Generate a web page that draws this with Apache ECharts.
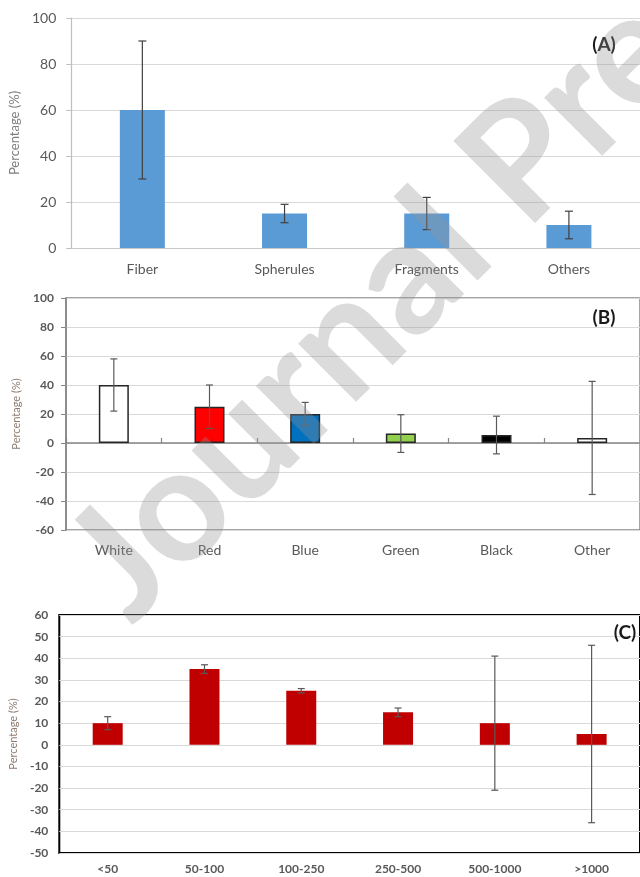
<!DOCTYPE html>
<html>
<head>
<meta charset="utf-8">
<script src="https://cdn.jsdelivr.net/npm/echarts@6/dist/echarts.min.js"></script>
<style>
html, body { margin: 0; padding: 0; background: #fff; }
#main { width: 640px; height: 877px; }
</style>
</head>
<body>
<div id="main"></div>
<script>
// (A) particle shape
var shapeCats = ['Fiber', 'Spherules', 'Fragments', 'Others'];
var shapeVals = [60, 15, 15, 10];
var shapeErr = [30, 4, 7, 6];

// (B) particle colour
var colourCats = ['White', 'Red', 'Blue', 'Green', 'Black', 'Other'];
var colourVals = [40, 25, 20, 6.5, 5.5, 3.5];
var colourErr = [18, 15, 8, 13, 13, 39];
var colourFills = ['#ffffff', '#ff0000', '#0070c0', '#92d050', '#000000', '#ffffff'];

// (C) size classes
var sizeCats = ['<50', '50-100', '100-250', '250-500', '500-1000', '>1000'];
var sizeVals = [10, 35, 25, 15, 10, 5];
var sizeErr = [3, 2, 1, 2, 31, 41];

var FONT = 'Lato';
var labelGrey = '#595959';
var nameGrey = '#8d7b6f';

function errData(vals, errs) {
    return vals.map(function (v, i) { return [i, v - errs[i], v + errs[i]]; });
}

function errRender(cap, color) {
    return function (params, api) {
        var lo = api.coord([api.value(0), api.value(1)]);
        var hi = api.coord([api.value(0), api.value(2)]);
        var st = { stroke: color, lineWidth: 1.2 };
        return {
            type: 'group',
            children: [
                { type: 'line', shape: { x1: lo[0], y1: lo[1], x2: hi[0], y2: hi[1] }, style: st },
                { type: 'line', shape: { x1: hi[0] - cap, y1: hi[1], x2: hi[0] + cap, y2: hi[1] }, style: st },
                { type: 'line', shape: { x1: lo[0] - cap, y1: lo[1], x2: lo[0] + cap, y2: lo[1] }, style: st }
            ]
        };
    };
}

var myChart = echarts.init(document.getElementById('main'));

var option = {
    backgroundColor: '#ffffff',
    animation: false,
    textStyle: { fontFamily: FONT },
    grid: [
        { left: 70, top: 18, width: 572, height: 230 },
        { left: 66, top: 298, width: 576, height: 232, show: true, borderColor: '#868686', borderWidth: 1.5, backgroundColor: 'transparent' },
        { left: 58, top: 615, width: 586, height: 238, show: true, borderColor: '#000000', borderWidth: 2, backgroundColor: 'transparent' }
    ],
    xAxis: [
        {
            type: 'category', gridIndex: 0, data: shapeCats,
            axisLine: { lineStyle: { color: '#c8c8c8', width: 1.2 } },
            axisTick: { show: false },
            axisLabel: { color: labelGrey, fontSize: 14, margin: 14, fontFamily: FONT }
        },
        {
            type: 'category', gridIndex: 1, data: colourCats,
            axisLine: { show: false, onZero: false },
            axisTick: { show: false },
            axisLabel: { color: labelGrey, fontSize: 14, margin: 13, fontFamily: FONT }
        },
        {
            type: 'category', gridIndex: 1, data: colourCats,
            axisLine: { onZero: true, lineStyle: { color: '#868686', width: 1.5 } },
            axisTick: { show: true, length: 5, lineStyle: { color: '#868686', width: 1.2 } },
            axisLabel: { show: false }
        },
        {
            type: 'category', gridIndex: 2, data: sizeCats,
            axisLine: { show: false, onZero: false },
            axisTick: { show: false },
            axisLabel: { color: labelGrey, fontSize: 12, fontWeight: 'bold', margin: 10, fontFamily: FONT }
        }
    ],
    yAxis: [
        {
            type: 'value', gridIndex: 0, min: 0, max: 100, interval: 20,
            name: 'Percentage (%)', nameLocation: 'middle', nameGap: 42,
            nameTextStyle: { color: '#7f7f7f', fontSize: 13, fontFamily: FONT },
            axisLine: { show: true, lineStyle: { color: '#bfbfbf', width: 1.2 } },
            axisTick: { show: true, length: 5, lineStyle: { color: '#bfbfbf' } },
            axisLabel: { color: labelGrey, fontSize: 14, margin: 15, fontFamily: FONT },
            splitLine: { lineStyle: { color: '#d9d9d9', width: 1.2 } }
        },
        {
            type: 'value', gridIndex: 1, min: -60, max: 100, interval: 20,
            name: 'Percentage (%)', nameLocation: 'middle', nameGap: 31,
            nameTextStyle: { color: nameGrey, fontSize: 11, fontFamily: FONT },
            axisLine: { show: true, lineStyle: { color: '#868686', width: 1.5 } },
            axisTick: { show: true, length: 5, lineStyle: { color: '#868686' } },
            axisLabel: { color: labelGrey, fontSize: 12, fontWeight: 'bold', margin: 12, fontFamily: FONT },
            splitLine: { lineStyle: { color: '#d9d9d9', width: 1.2 } }
        },
        {
            type: 'value', gridIndex: 2, min: -50, max: 60, interval: 10,
            name: 'Percentage (%)', nameLocation: 'middle', nameGap: 34,
            nameTextStyle: { color: nameGrey, fontSize: 11, fontFamily: FONT },
            axisLine: { show: false },
            axisTick: { show: false },
            axisLabel: { color: labelGrey, fontSize: 12, fontWeight: 'bold', margin: 11, fontFamily: FONT },
            splitLine: { lineStyle: { color: '#d9d9d9', width: 1.2 } }
        }
    ],
    series: [
        {
            type: 'bar', xAxisIndex: 0, yAxisIndex: 0, data: shapeVals,
            barWidth: 45, itemStyle: { color: '#5b9bd5' }
        },
        {
            type: 'custom', xAxisIndex: 0, yAxisIndex: 0, data: errData(shapeVals, shapeErr),
            encode: { x: 0, y: [1, 2] }, renderItem: errRender(4, '#404040'), z: 5
        },
        {
            type: 'bar', xAxisIndex: 1, yAxisIndex: 1,
            data: colourVals.map(function (v, i) { return { value: v, itemStyle: { color: colourFills[i] } }; }),
            barWidth: 30, itemStyle: { borderColor: '#262626', borderWidth: 1.5 }
        },
        {
            type: 'custom', xAxisIndex: 1, yAxisIndex: 1, data: errData(colourVals, colourErr),
            encode: { x: 0, y: [1, 2] }, renderItem: errRender(3.5, '#595959'), z: 5
        },
        {
            type: 'bar', xAxisIndex: 3, yAxisIndex: 2, data: sizeVals,
            barWidth: 30, itemStyle: { color: '#c00000' }
        },
        {
            type: 'custom', xAxisIndex: 3, yAxisIndex: 2, data: errData(sizeVals, sizeErr),
            encode: { x: 0, y: [1, 2] }, renderItem: errRender(3.5, '#595959'), z: 5
        }
    ],
    graphic: [
        { type: 'text', x: 604, y: 45, z: 50, style: { text: '(A)', fill: '#1a1a1a', font: 'bold 19px Lato', align: 'center', verticalAlign: 'middle' } },
        { type: 'text', x: 604, y: 318, z: 50, style: { text: '(B)', fill: '#1a1a1a', font: 'bold 19px Lato', align: 'center', verticalAlign: 'middle' } },
        { type: 'text', x: 625, y: 633, z: 50, style: { text: '(C)', fill: '#1a1a1a', font: 'bold 19px Lato', align: 'center', verticalAlign: 'middle' } },
        {
            type: 'text', x: 95, y: 590, rotation: Math.PI / 4, z: 100, silent: true,
            style: { text: 'Journal Pre-proof', fill: 'rgba(145,145,145,0.33)', font: 'bold 160px Lato', align: 'left', verticalAlign: 'middle' }
        }
    ]
};

myChart.setOption(option);
</script>
</body>
</html>
